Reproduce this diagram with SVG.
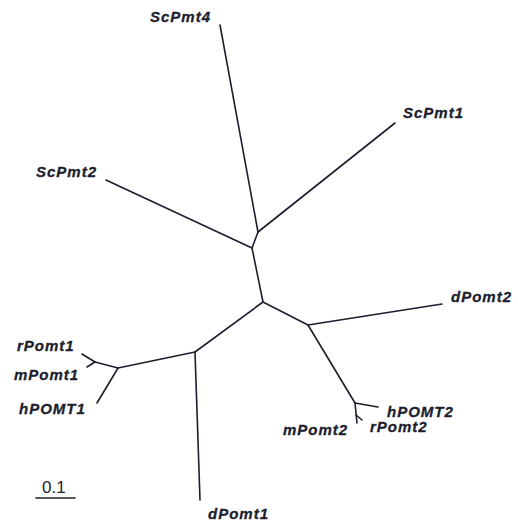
<svg xmlns="http://www.w3.org/2000/svg" width="518" height="526" viewBox="0 0 518 526">
<style>
.lbl{font-family:"Liberation Sans",Arial,sans-serif;font-weight:bold;font-style:italic;font-size:15px;letter-spacing:1px;fill:#1c1e2e;stroke:#1c1e2e;stroke-width:0.3}
.br{stroke:#1c1e2e;stroke-width:1.6;fill:none;stroke-linecap:round;stroke-linejoin:round}
.sc{font-family:"Liberation Sans",Arial,sans-serif;font-size:17px;fill:#1c1e2e}
</style>
<rect width="518" height="526" fill="#fff"/>
<g id="connectors" class="br">
<path d="M220,25 L258,232"/>
<path d="M258,232 L395,123"/>
<path d="M258,232 L252,248"/>
<path d="M106,180 L252,248"/>
<path d="M252,248 L263,302"/>
<path d="M263,302 L195,352"/>
<path d="M263,302 L308,325"/>
<path d="M308,325 L442,304"/>
<path d="M308,325 L355,403"/>
<path d="M355,403 L378,407"/>
<path d="M355,403 L357,423"/>
<path d="M356,415 L362,420"/>
<path d="M195,352 L200,500"/>
<path d="M195,352 L118,368"/>
<path d="M118,368 L97,403"/>
<path d="M118,368 L95,362"/>
<path d="M95,362 L82,354"/>
<path d="M95,362 L87,367"/>
</g>
<g id="ScPmt4"><text class="lbl" x="150" y="22">ScPmt4</text></g>
<g id="ScPmt1"><text class="lbl" x="403" y="118">ScPmt1</text></g>
<g id="ScPmt2"><text class="lbl" x="36" y="177">ScPmt2</text></g>
<g id="dPomt2"><text class="lbl" x="451" y="302">dPomt2</text></g>
<g id="rPomt1"><text class="lbl" x="17" y="351">rPomt1</text></g>
<g id="mPomt1"><text class="lbl" x="14" y="380">mPomt1</text></g>
<g id="hPOMT1"><text class="lbl" x="19" y="414">hPOMT1</text></g>
<g id="hPOMT2"><text class="lbl" x="387" y="417">hPOMT2</text></g>
<g id="rPomt2"><text class="lbl" x="370" y="432">rPomt2</text></g>
<g id="mPomt2"><text class="lbl" x="283" y="435">mPomt2</text></g>
<g id="dPomt1"><text class="lbl" x="208" y="519">dPomt1</text></g>
<g id="scale">
<text class="sc" x="42" y="493">0.1</text>
<line x1="36" y1="498" x2="75" y2="498" class="br"/>
</g>
</svg>
